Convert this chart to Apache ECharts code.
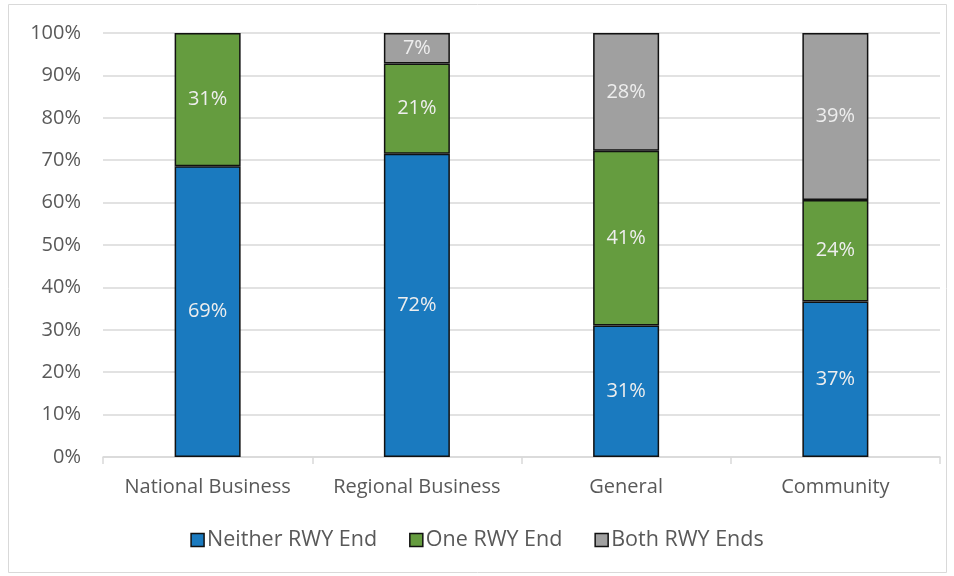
<!DOCTYPE html>
<html>
<head>
<meta charset="utf-8">
<script src="https://cdn.jsdelivr.net/npm/echarts@6/dist/echarts.min.js"></script>
<style>
  html, body { margin: 0; padding: 0; background: #fff; }
  #chart { width: 954px; height: 576px; }
</style>
</head>
<body>
<div id="chart"></div>
<script>
var categories = ['National Business', 'Regional Business', 'General', 'Community'];
var neitherEnd = [68.6, 71.5, 31.0, 36.7];
var oneEnd = [31.4, 21.3, 41.2, 23.9];
var bothEnds = ['-', 7.2, 27.8, 39.4];
var yTicks = [0, 10, 20, 30, 40, 50, 60, 70, 80, 90, 100];

var font = '"Open Sans", "Liberation Sans", sans-serif';

function barSeries(name, data, color) {
  return {
    name: name,
    type: 'bar',
    stack: 'total',
    barWidth: 66,
    data: data,
    itemStyle: {
      color: color,
      borderColor: '#111',
      borderWidth: 1.5
    },
    label: {
      show: true,
      position: 'inside',
      color: '#eeeeee',
      fontSize: 20,
      fontFamily: font,
      formatter: function (p) {
        return Math.round(p.value) + '%';
      }
    }
  };
}

var chart = echarts.init(document.getElementById('chart'));
chart.setOption({
  animation: false,
  graphic: [{
    type: 'rect',
    shape: { x: 8.5, y: 4.5, width: 938, height: 568 },
    style: { fill: 'none', stroke: '#d9d9d9', lineWidth: 1 },
    silent: true
  }],
  grid: {
    left: 103,
    right: 14,
    top: 33,
    bottom: 119
  },
  legend: {
    bottom: 20,
    left: 'center',
    itemWidth: 13,
    itemHeight: 13,
    itemGap: 32,
    icon: 'rect',
    itemStyle: { borderColor: '#111', borderWidth: 1.5 },
    textStyle: {
      color: '#595959',
      fontSize: 21.5,
      fontFamily: font,
      padding: [0, 0, 0, -2]
    },
    data: ['Neither RWY End', 'One RWY End', 'Both RWY Ends']
  },
  xAxis: {
    type: 'category',
    data: categories,
    axisLine: { lineStyle: { color: '#d9d9d9', width: 1.5 } },
    axisTick: { show: true, interval: 0, length: 7, lineStyle: { color: '#d9d9d9', width: 1.5 } },
    axisLabel: {
      interval: 0,
      color: '#595959',
      fontSize: 20,
      fontFamily: font,
      margin: 20
    }
  },
  yAxis: {
    type: 'value',
    min: 0,
    max: 100,
    interval: 10,
    axisLine: { show: false },
    axisTick: { show: false },
    splitLine: { lineStyle: { color: '#d9d9d9', width: 1.5 } },
    axisLabel: {
      color: '#595959',
      fontSize: 20,
      fontFamily: font,
      margin: 22,
      formatter: function (v) {
        return yTicks.indexOf(v) >= 0 ? v + '%' : '';
      }
    }
  },
  series: [
    barSeries('Neither RWY End', neitherEnd, '#1a7abf'),
    barSeries('One RWY End', oneEnd, '#659c3f'),
    barSeries('Both RWY Ends', bothEnds, '#a0a0a0')
  ]
});
</script>
</body>
</html>
